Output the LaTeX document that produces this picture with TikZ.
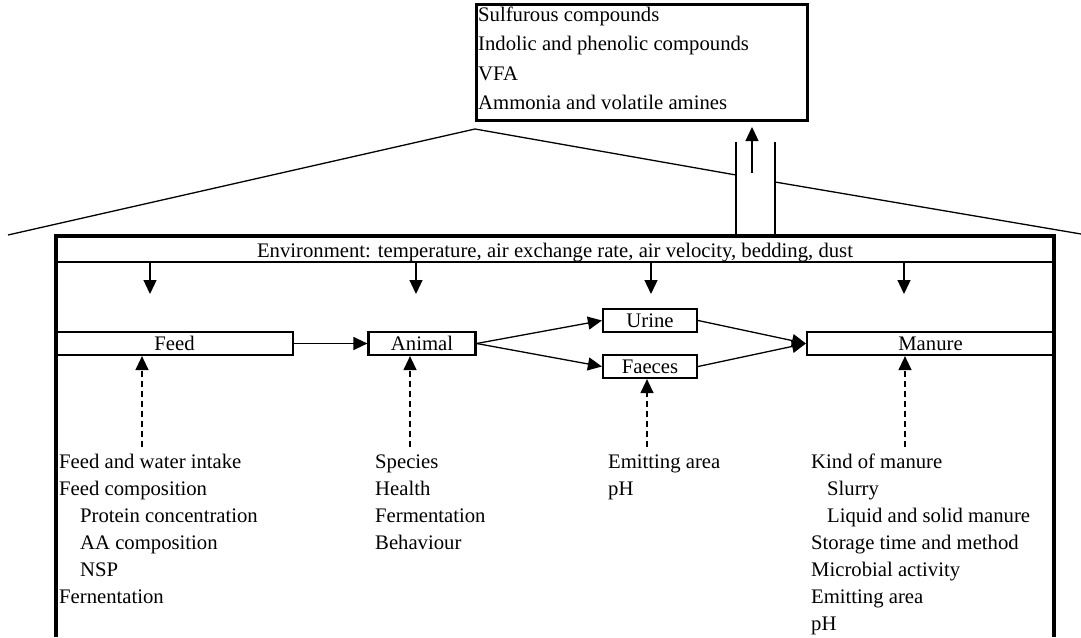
\documentclass[tikz,border=0pt]{standalone}
\usepackage{fontspec}
\setmainfont{Liberation Serif}
\usetikzlibrary{arrows.meta}
\begin{document}
\begin{tikzpicture}[x=1pt,y=-1pt,
  font=\fontsize{20.7}{25}\selectfont,
  arr/.style={-{Triangle[length=14pt,width=13pt]}, line width=1.3pt},
  darr/.style={arr, dash pattern=on 6pt off 4pt},
  fbox/.style={draw, line width=2.2pt, rectangle, inner sep=0pt, minimum height=23pt},
  txt/.style={anchor=base west, inner sep=0pt},
  roof/.style={line width=1.3pt},
  house/.style={line width=4pt}
]
\useasboundingbox (0,0) rectangle (1081,637);

% emissions box
\node[draw, line width=2.6pt, minimum width=331pt, minimum height=116pt, anchor=north west, inner sep=0pt] (emis) at (475,3) {};
\node[txt] (e1) at (478,21) {Sulfurous compounds};
\node[txt] (e2) at (478,50) {Indolic and phenolic compounds};
\node[txt] (e3) at (478,80) {VFA};
\node[txt] (e4) at (478,109) {Ammonia and volatile amines};

% roof and chimney
\coordinate (roofL) at (8,235);
\coordinate (apex) at (475,129);
\coordinate (chL) at (736,175);
\coordinate (chR) at (775,182);
\coordinate (roofR) at (1081,234);
\draw[roof] (roofL) -- (apex) -- (chL);
\draw[roof] (chR) -- (roofR);
\coordinate (cw1t) at (736,142); \coordinate (cw1b) at (736,235);
\coordinate (cw2t) at (775,142); \coordinate (cw2b) at (775,235);
\draw[roof] (cw1t) -- (cw1b);
\draw[roof] (cw2t) -- (cw2b);
\coordinate (chA) at (752,173);
\coordinate (chT) at (752,127);
\draw[arr] (chA) -- (chT);

% house
\draw[house] (56,637) -- (56,236) -- (1054,236) -- (1054,637);
\draw[line width=2.2pt] (56,262) -- (1054,262);
\node[anchor=base, inner sep=0pt] (env) at (555,257) {Environment: temperature, air exchange rate, air velocity, bedding, dust};

% environment arrows
\foreach \x/\n in {150/a,416/b,651/c,904/d}{
  \coordinate (env\n) at (\x,262);
  \draw[arr] (env\n) -- (\x,294);
}

% process boxes
\node[fbox, minimum width=237pt] (feed) at (174.5,343.5) {Feed};
\node[fbox, minimum width=107pt] (animal) at (422,343.5) {Animal};
\node[fbox, minimum width=94pt] (urine) at (650,320.5) {Urine};
\node[fbox, minimum width=94pt] (faeces) at (650,366.5) {Faeces};
\node[fbox, minimum width=247pt] (manure) at (930.5,343.5) {Manure};

\draw[arr] (feed.east) -- (animal.west);
\draw[arr] (animal.east) -- (urine.west);
\draw[arr] (animal.east) -- (faeces.west);
\draw[arr] (urine.east) -- (manure.west);
\draw[arr] (faeces.east) -- (manure.west);

% dashed influences
\coordinate (df) at (142,447);
\coordinate (da) at (410,447);
\coordinate (dfa) at (647,447);
\coordinate (dm) at (905,447);
\draw[darr] (df) -- (df |- feed.south);
\draw[darr] (da) -- (da |- animal.south);
\draw[darr] (dfa) -- (dfa |- faeces.south);
\draw[darr] (dm) -- (dm |- manure.south);

% lists
\node[txt] (f1) at (59,468) {Feed and water intake};
\node[txt] (f2) at (59,495) {Feed composition};
\node[txt] (f3) at (80,522) {Protein concentration};
\node[txt] (f4) at (80,549) {AA composition};
\node[txt] (f5) at (80,576) {NSP};
\node[txt] (f6) at (59,603) {Fernentation};

\node[txt] (a1) at (375,468) {Species};
\node[txt] (a2) at (375,495) {Health};
\node[txt] (a3) at (375,522) {Fermentation};
\node[txt] (a4) at (375,549) {Behaviour};

\node[txt] (p1) at (608,468) {Emitting area};
\node[txt] (p2) at (608,495) {pH};

\node[txt] (m1) at (811,468) {Kind of manure};
\node[txt] (m2) at (827,495) {Slurry};
\node[txt] (m3) at (827,522) {Liquid and solid manure};
\node[txt] (m4) at (811,549) {Storage time and method};
\node[txt] (m5) at (811,576) {Microbial activity};
\node[txt] (m6) at (811,603) {Emitting area};
\node[txt] (m7) at (811,630) {pH};
\end{tikzpicture}
\end{document}
